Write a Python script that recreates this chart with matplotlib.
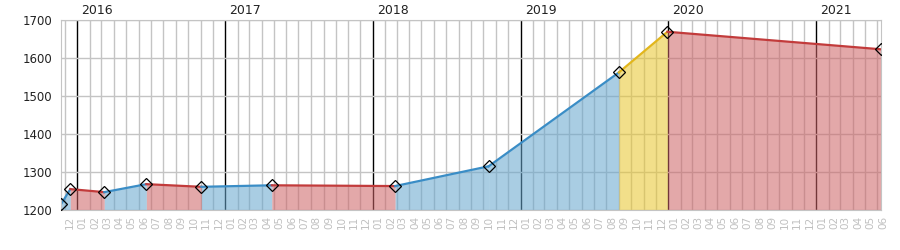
import matplotlib
matplotlib.use("Agg")
import matplotlib.pyplot as plt
import matplotlib.dates as mdates
import matplotlib.transforms as mtransforms
import pandas as pd

# observation dates and values (diamonds)
dates = ["2015-11-22", "2015-12-15", "2016-03-08", "2016-06-20", "2016-11-03",
         "2017-04-26", "2018-02-25", "2018-10-14", "2019-09-01", "2019-12-30",
         "2021-06-09"]
values = [1215, 1255, 1247, 1268, 1261, 1265, 1263, 1315, 1562, 1669, 1623]
# trend of each segment between two observations
trend = ["up", "down", "up", "down", "up", "down", "up", "up", "mid", "down"]
years = [2016, 2017, 2018, 2019, 2020, 2021]
y_ticks = [1200, 1300, 1400, 1500, 1600, 1700]

fill_colors = {"up": "#66A6CD", "down": "#CD6466", "mid": "#E8C62E"}
line_colors = {"up": "#3A8DC6", "down": "#C23B3B", "mid": "#E2B61C"}

x = pd.to_datetime(dates)

fig = plt.figure(figsize=(9, 2.5), dpi=100)
ax = fig.add_axes([61 / 900, 1 - 210 / 250, 820 / 900, 190 / 250])

# month grid
months = pd.date_range("2015-12-01", "2021-06-01", freq="MS")
for m in months:
    if m.month == 1:
        ax.axvline(m, color="black", lw=1, zorder=0)
    else:
        ax.axvline(m, color="#C4C4C4", lw=1, zorder=0)
for t in y_ticks:
    ax.axhline(t, color="#C4C4C4", lw=1, zorder=0)

# coloured segments
for i, tr in enumerate(trend):
    xs = x[i:i + 2]
    ys = values[i:i + 2]
    ax.fill_between(xs, ys, 1200, color=fill_colors[tr], alpha=0.56, lw=0, zorder=1)
    ax.plot(xs, ys, color=line_colors[tr], lw=1.6, zorder=2)

ax.plot(x, values, ls="none", marker="D", markersize=6.5, markerfacecolor="none",
        markeredgecolor="black", markeredgewidth=0.9, zorder=3)

ax.set_xlim(x[0], x[-1] + pd.Timedelta(days=1))
ax.set_ylim(1200, 1700)
ax.set_yticks(y_ticks)
ax.set_xticks([])
ax.tick_params(axis="y", length=0, pad=6, labelsize=8.5, colors="#222222")
for s in ax.spines.values():
    s.set_color("#C4C4C4")

trans = mtransforms.blended_transform_factory(ax.transData, ax.transAxes)

# month labels
for m in months:
    ax.text(mdates.date2num(m + pd.Timedelta(days=14)), -0.03, m.strftime("%m"),
            transform=trans, rotation=90, ha="center", va="top", fontsize=7.5,
            color="#C0C0C0", clip_on=False)

# year labels
for yr in years:
    ax.annotate(str(yr), xy=(mdates.date2num(pd.Timestamp(f"{yr}-01-01")), 1),
                xycoords=trans, xytext=(3, 2), textcoords="offset points",
                ha="left", va="bottom", fontsize=9, color="#222222")

fig.savefig("out.png", dpi=100)
